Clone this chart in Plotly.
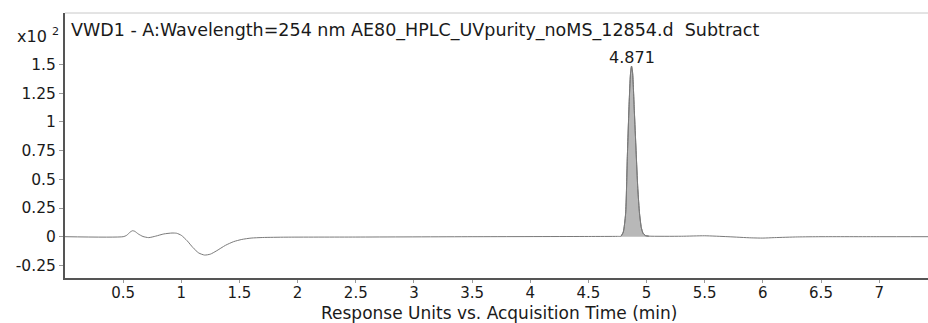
import plotly.graph_objects as go

# Chromatogram data (response x10^2 vs. acquisition time, min)
time_min = [0.0, 0.5, 0.53, 0.56, 0.58, 0.6, 0.63, 0.67, 0.72, 0.78, 0.85, 0.92, 0.96,
            1.0, 1.05, 1.1, 1.15, 1.2, 1.25, 1.3, 1.38, 1.45, 1.52, 1.6, 1.7, 1.9,
            2.5, 3.5, 4.5, 4.75, 4.78, 4.80, 4.82, 4.835, 4.85, 4.862, 4.871, 4.88,
            4.895, 4.91, 4.925, 4.94, 4.955, 4.97, 4.99, 5.02, 5.3, 5.5, 5.7, 5.9,
            6.0, 6.1, 6.3, 6.5, 7.0, 7.42]
response = [0.0, 0.0, 0.012, 0.04, 0.052, 0.047, 0.024, 0.002, -0.008, 0.005, 0.024,
            0.032, 0.03, 0.012, -0.035, -0.095, -0.142, -0.16, -0.152, -0.125, -0.075,
            -0.043, -0.024, -0.012, -0.007, -0.004, -0.003, 0.0, 0.002, 0.003, 0.004,
            0.04, 0.2, 0.7, 1.15, 1.42, 1.487, 1.43, 1.1, 0.75, 0.42, 0.2, 0.08, 0.03,
            0.01, 0.005, 0.004, 0.008, 0.0, -0.01, -0.012, -0.008, -0.002, 0.0, 0.0, 0.0]

peak_rt = 4.871
peak_start, peak_end = 4.78, 5.02

x_ticks = [0.5, 1, 1.5, 2, 2.5, 3, 3.5, 4, 4.5, 5, 5.5, 6, 6.5, 7]
x_labels = ["0.5", "1", "1.5", "2", "2.5", "3", "3.5", "4", "4.5", "5", "5.5", "6", "6.5", "7"]
y_ticks = [-0.25, 0, 0.25, 0.5, 0.75, 1, 1.25, 1.5]
y_labels = ["-0.25", "0", "0.25", "0.5", "0.75", "1", "1.25", "1.5"]

title_text = "VWD1 - A:Wavelength=254 nm AE80_HPLC_UVpurity_noMS_12854.d  Subtract"
x_title = "Response Units vs. Acquisition Time (min)"

FONT = "DejaVu Sans, Verdana, sans-serif"
TXT = "#1a1a1a"

peak_x = [t for t in time_min if peak_start <= t <= peak_end]
peak_y = [r for t, r in zip(time_min, response) if peak_start <= t <= peak_end]

fig = go.Figure()
fig.add_trace(go.Scatter(x=peak_x, y=peak_y, mode="lines", fill="tozeroy",
                         fillcolor="#b8b8b8", line=dict(color="#6e6e6e", width=1,
                         shape="spline", smoothing=0.6), hoverinfo="skip", showlegend=False))
fig.add_trace(go.Scatter(x=time_min, y=response, mode="lines",
                         line=dict(color="#7a7a7a", width=1, shape="spline", smoothing=0.6),
                         showlegend=False))

fig.add_annotation(x=peak_rt, y=1.487, text="4.871", showarrow=False, yanchor="middle",
                   yshift=9, font=dict(family=FONT, size=16, color=TXT))
fig.add_annotation(xref="paper", yref="paper", x=0.0, y=1.0, xanchor="left", yanchor="middle",
                   text=title_text, showarrow=False, xshift=4, yshift=-17,
                   font=dict(family=FONT, size=17.5, color=TXT))
fig.add_annotation(xref="paper", yref="paper", x=0.0, y=1.0, xanchor="right", yanchor="middle",
                   text="x10 <sup>2</sup>", showarrow=False, xshift=-4, yshift=-22,
                   font=dict(family=FONT, size=16, color=TXT))
fig.add_annotation(xref="paper", yref="paper", x=0.504, y=0.0, xanchor="center", yanchor="middle",
                   text=x_title, showarrow=False, yshift=-35,
                   font=dict(family=FONT, size=17, color=TXT))

fig.add_shape(type="line", xref="paper", yref="paper", x0=0, x1=1, y0=1, y1=1,
              line=dict(color="#c8c8c8", width=1))

fig.update_layout(
    width=928, height=323,
    margin=dict(l=65, r=0, t=13, b=45),
    paper_bgcolor="white", plot_bgcolor="white",
    font=dict(family=FONT, size=15, color=TXT),
    xaxis=dict(range=[0, 7.42], tickvals=x_ticks, ticktext=x_labels, showgrid=False,
               zeroline=False, showline=True, linecolor="#555", linewidth=2,
               ticks="outside", ticklen=3, tickcolor="#999", tickwidth=1, automargin=False,
               ticklabelstandoff=-3,
               tickfont=dict(family=FONT, size=15, color=TXT)),
    yaxis=dict(range=[-0.36, 1.95], tickvals=y_ticks, ticktext=y_labels, showgrid=False,
               zeroline=False, showline=True, linecolor="#555", linewidth=2,
               ticks="outside", ticklen=4, tickcolor="#999", tickwidth=1, automargin=False,
               tickfont=dict(family=FONT, size=15.5, color=TXT)),
)

fig.write_html("out.html", config={"displayModeBar": False},
               post_script="document.body.style.margin='0';document.body.style.overflow='hidden';")
